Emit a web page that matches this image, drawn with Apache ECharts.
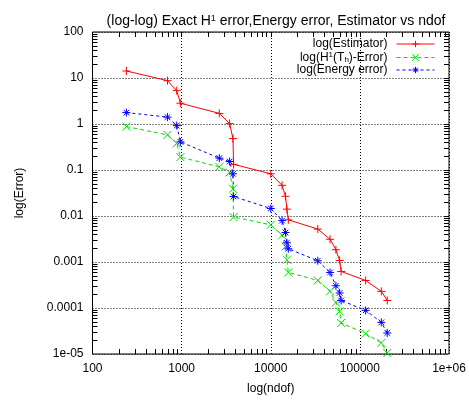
<!DOCTYPE html>
<html>
<head>
<meta charset="utf-8">
<script src="https://cdn.jsdelivr.net/npm/echarts@6/dist/echarts.min.js"></script>
<style>
  html, body { margin: 0; padding: 0; background: #fff; }
  #chart { width: 469px; height: 400px; }
</style>
</head>
<body>
<div id="chart"></div>
<script>
  // ndof (shared by all three curves)
  const ndof = [240, 694, 881, 969, 2648, 3458, 3767, 3829, 10000, 13400, 14630,
    15180, 15740, 33700, 46300, 53800, 59300, 61600, 116100, 174100, 203000];
  const estimator = [14.2, 8.76, 5.31, 2.83, 1.70, 1.02, 0.482, 0.133, 0.0825, 0.0464, 0.0268,
    0.0141, 0.00826, 0.0052, 0.00312, 0.00185, 0.00108, 0.000623, 0.000397, 0.00023, 0.000146];
  const h1Error = [0.879, 0.580, 0.379, 0.190, 0.117, 0.0889, 0.039, 0.00946, 0.00644, 0.00381, 0.00218,
    0.00112, 0.000593, 0.000397, 0.00023, 0.000132, 0.0000843, 0.0000472, 0.0000277, 0.0000174, 0.0000105];
  const energyError = [1.77, 1.41, 0.923, 0.409, 0.181, 0.153, 0.0825, 0.0265, 0.01455, 0.00794, 0.00438,
    0.00262, 0.00194, 0.001065, 0.000593, 0.000305, 0.000212, 0.000146, 0.0000887, 0.0000487, 0.0000286];

  const xTickLabels = {100: '100', 1000: '1000', 10000: '10000', 100000: '100000', 1000000: '1e+06'};
  const yTickLabels = {100: '100', 10: '10', 1: '1', 0.1: '0.1', 0.01: '0.01', 0.001: '0.001', 0.0001: '0.0001', 0.00001: '1e-05'};

  // 2..9 in every decade, for the small ticks
  function minorValues(lo, hi) {
    const out = [];
    for (let d = lo; d < hi; d++) {
      for (let k = 2; k <= 9; k++) out.push(+(k * Math.pow(10, d)).toPrecision(6));
    }
    return out;
  }
  function majorValues(lo, hi) {
    const out = [];
    for (let d = lo + 1; d < hi; d++) out.push(+Math.pow(10, d).toPrecision(6));
    return out;
  }

  const font = 'Liberation Sans, Arial, sans-serif';
  const pair = (ys) => ndof.map((x, i) => [x, ys[i]]);
  const plus = 'path://M1,0L1,2M0,1L2,1';
  const cross = 'path://M0,0L2,2M2,0L0,2';
  const star = 'path://M1,0L1,2M0,1L2,1M0.3,0.3L1.7,1.7M1.7,0.3L0.3,1.7';

  function mk(name, data, color, symbol, type) {
    return {
      name, type: 'line', data: pair(data), symbol, symbolSize: 8,
      xAxisIndex: 0, yAxisIndex: 0,
      lineStyle: {color, width: 1, type},
      itemStyle: {color, borderColor: color, borderWidth: 1},
      emphasis: {disabled: true},
      z: 5
    };
  }

  // extra log axes without series, only to draw the gnuplot style ticks
  function tickAxis(position, min, max, values, len) {
    return {
      type: 'log', position, min, max, offset: 0,
      axisLine: {show: false}, axisLabel: {show: false}, splitLine: {show: false},
      axisTick: {show: true, inside: true, length: len, customValues: values, lineStyle: {color: '#000', width: 1}}
    };
  }

  const myChart = echarts.init(document.getElementById('chart'), null, {renderer: 'canvas'});
  myChart.setOption({
    animation: false,
    backgroundColor: '#fff',
    title: {
      text: '(log-log) Exact H{sup|1} error,Energy error, Estimator vs ndof',
      left: 271, top: 9, textAlign: 'center',
      textStyle: {
        fontFamily: font, fontSize: 14, fontWeight: 'normal', color: '#000',
        rich: {sup: {fontFamily: font, fontSize: 9, verticalAlign: 'top', color: '#000'}}
      }
    },
    grid: {show: true, left: 92.5, right: 20, top: 32, bottom: 46,
      borderColor: '#000', borderWidth: 1, backgroundColor: 'transparent'},
    legend: [0, 1, 2].map(i => ({
      data: [['log(Estimator)', 'log(H1(Th)-Error)', 'log(Energy error)'][i]],
      right: 34, top: 38 + i * 13, align: 'right',
      itemWidth: 38, itemHeight: 8, itemGap: 0, padding: 0,
      itemStyle: {borderWidth: 1},
      lineStyle: {width: 1},
      formatter(name) {
        if (name === 'log(H1(Th)-Error)') return '{n|log(H}{sup|1}{n|(T}{sub|h}{n|)-Error)}';
        return '{n|' + name + '}';
      },
      textStyle: {
        fontFamily: font, fontSize: 12, color: '#000', padding: [0, 4, 0, 0],
        rich: {
          n: {fontFamily: font, fontSize: 12, color: '#000', lineHeight: 13},
          sup: {fontFamily: font, fontSize: 8, color: '#000', verticalAlign: 'top', lineHeight: 13},
          sub: {fontFamily: font, fontSize: 8, color: '#000', verticalAlign: 'bottom', lineHeight: 13}
        }
      }
    })),
    xAxis: [
      {
        type: 'log', min: 100, max: 1000000, logBase: 10,
        name: 'log(ndof)', nameLocation: 'middle', nameGap: 29,
        nameTextStyle: {fontFamily: font, fontSize: 12, color: '#000'},
        axisLine: {show: false},
        axisTick: {show: false},
        axisLabel: {fontFamily: font, fontSize: 12, color: '#000', margin: 9,
          formatter: v => xTickLabels[v] !== undefined ? xTickLabels[v] : ''},
        splitLine: {show: true, lineStyle: {color: '#000', type: [1, 2], width: 1}}
      },
      tickAxis('bottom', 100, 1000000, minorValues(2, 6), 5),
      tickAxis('top', 100, 1000000, minorValues(2, 6).concat(majorValues(2, 6)), 5)
    ],
    yAxis: [
      {
        type: 'log', min: 0.00001, max: 100, logBase: 10,
        name: 'log(Error)', nameLocation: 'middle', nameGap: 67, nameRotate: 90,
        nameTextStyle: {fontFamily: font, fontSize: 12, color: '#000'},
        axisLine: {show: false},
        axisTick: {show: false},
        axisLabel: {fontFamily: font, fontSize: 12, color: '#000', margin: 9,
          formatter: v => {
            for (const k in yTickLabels) { if (Math.abs(Math.log10(v) - Math.log10(+k)) < 1e-6) return yTickLabels[k]; }
            return '';
          }},
        splitLine: {show: true, lineStyle: {color: '#000', type: [1, 2], width: 1}}
      },
      tickAxis('left', 0.00001, 100, minorValues(-5, 2), 5),
      tickAxis('right', 0.00001, 100, minorValues(-5, 2).concat(majorValues(-5, 2)), 5)
    ],
    series: [
      mk('log(Estimator)', estimator, '#ff0000', plus, 'solid'),
      mk('log(H1(Th)-Error)', h1Error, '#00dd00', cross, [4, 3]),
      mk('log(Energy error)', energyError, '#0000ff', star, [3, 3])
    ]
  });
</script>
</body>
</html>
